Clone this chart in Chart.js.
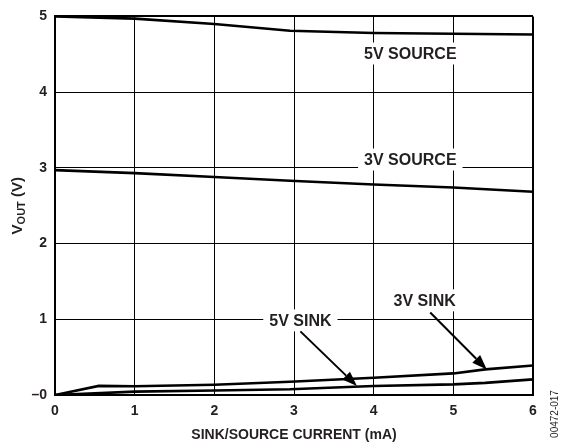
<!DOCTYPE html>
<html>
<head>
<meta charset="utf-8">
<script src="https://cdn.jsdelivr.net/npm/chart.js@4/dist/chart.umd.min.js"></script>
<style>
  html, body { margin: 0; padding: 0; background: #fff; }
  #wrap { width: 561px; height: 444px; position: relative; }
</style>
</head>
<body>
<div id="wrap"><canvas id="c" width="561" height="444"></canvas></div>
<script>
// ---- data ----
const src5X = [0, 1, 2, 2.95, 4, 5, 6];
const src5Y = [5.0, 4.97, 4.9, 4.81, 4.78, 4.77, 4.76];
const src3X = [0, 1, 2, 2.95, 4, 5, 6];
const src3Y = [2.97, 2.93, 2.88, 2.83, 2.78, 2.74, 2.685];
const sink3X = [0, 0.55, 1, 2, 2.95, 4, 5, 5.4, 6];
const sink3Y = [0.0, 0.12, 0.115, 0.135, 0.175, 0.227, 0.285, 0.338, 0.39];
const sink5X = [0, 1, 2, 2.95, 4, 5, 5.4, 6];
const sink5Y = [0.0, 0.045, 0.06, 0.075, 0.118, 0.14, 0.16, 0.206];
const xTicks = [0, 1, 2, 3, 4, 5, 6];
const yTicks = [0, 1, 2, 3, 4, 5];
const yTickLabels = ['\u20130', '1', '2', '3', '4', '5'];
const xTitle = 'SINK/SOURCE CURRENT (mA)';
const yTitleMain = 'V';
const yTitleSub = 'OUT';
const yTitleTail = ' (V)';
const sideNote = '00472-017';
// annotation labels (data coordinates)
const labelTexts = ['5V SOURCE', '3V SOURCE', '5V SINK', '3V SINK'];
const labelX = [4.46, 4.46, 3.08, 4.64];
const labelY = [4.51, 3.11, 0.985, 1.25];
// arrows (data coordinates): from -> to
const arrowFromX = [3.08, 4.71];
const arrowFromY = [0.84, 1.09];
const arrowToX = [3.79, 5.42];
const arrowToY = [0.118, 0.338];

const FONT = "'Liberation Sans', Arial, Helvetica, sans-serif";
const toPts = (xs, ys) => xs.map((x, i) => ({ x: x, y: ys[i] }));

const lineDs = (label, xs, ys) => ({
  label: label,
  data: toPts(xs, ys),
  borderColor: '#000',
  borderWidth: 2.6,
  pointRadius: 0,
  fill: false,
  tension: 0
});

const annotationPlugin = {
  id: 'annot',
  afterDatasetsDraw(chart) {
    const ctx = chart.ctx;
    const xs = chart.scales.x, ys = chart.scales.y;
    ctx.save();
    ctx.font = 'bold 16px ' + FONT;
    ctx.textAlign = 'center';
    ctx.textBaseline = 'middle';
    labelTexts.forEach((t, i) => {
      const px = xs.getPixelForValue(labelX[i]);
      const py = ys.getPixelForValue(labelY[i]);
      const w = ctx.measureText(t).width;
      ctx.fillStyle = '#fff';
      ctx.fillRect(px - w / 2 - 6, py - 11, w + 12, 22);
      ctx.fillStyle = '#231f20';
      ctx.fillText(t, px, py + 1);
    });
    // arrows
    ctx.strokeStyle = '#000';
    ctx.fillStyle = '#000';
    ctx.lineWidth = 2;
    arrowFromX.forEach((fx, i) => {
      const x1 = xs.getPixelForValue(fx), y1 = ys.getPixelForValue(arrowFromY[i]);
      const x2 = xs.getPixelForValue(arrowToX[i]), y2 = ys.getPixelForValue(arrowToY[i]);
      const ang = Math.atan2(y2 - y1, x2 - x1);
      const L = 15, H = 5.5;
      const bx = x2 - L * Math.cos(ang), by = y2 - L * Math.sin(ang);
      ctx.beginPath();
      ctx.moveTo(x1, y1);
      ctx.lineTo(bx, by);
      ctx.stroke();
      ctx.beginPath();
      ctx.moveTo(x2, y2);
      ctx.lineTo(bx + H * Math.sin(ang), by - H * Math.cos(ang));
      ctx.lineTo(bx - H * Math.sin(ang), by + H * Math.cos(ang));
      ctx.closePath();
      ctx.fill();
    });
    ctx.restore();
  },
  afterDraw(chart) {
    const ctx = chart.ctx;
    const a = chart.chartArea;
    ctx.save();
    // y title with subscript
    ctx.translate(17, (a.top + a.bottom) / 2);
    ctx.rotate(-Math.PI / 2);
    ctx.fillStyle = '#231f20';
    ctx.textBaseline = 'alphabetic';
    ctx.font = 'bold 15px ' + FONT;
    const wV = ctx.measureText(yTitleMain).width;
    ctx.font = 'bold 11px ' + FONT;
    const wS = ctx.measureText(yTitleSub).width;
    ctx.font = 'bold 15px ' + FONT;
    const wT = ctx.measureText(yTitleTail).width;
    let x0 = -(wV + wS + wT) / 2;
    ctx.textAlign = 'left';
    ctx.fillText(yTitleMain, x0, 5);
    ctx.font = 'bold 11px ' + FONT;
    ctx.fillText(yTitleSub, x0 + wV, 8);
    ctx.font = 'bold 15px ' + FONT;
    ctx.fillText(yTitleTail, x0 + wV + wS, 5);
    ctx.restore();
    // side note
    ctx.save();
    ctx.translate(555, 414);
    ctx.rotate(-Math.PI / 2);
    ctx.font = '10px ' + FONT;
    ctx.fillStyle = '#231f20';
    ctx.textAlign = 'center';
    ctx.textBaseline = 'middle';
    ctx.fillText(sideNote, 0, 0);
    ctx.restore();
  }
};

new Chart(document.getElementById('c'), {
  type: 'line',
  data: {
    datasets: [
      lineDs('5V SOURCE', src5X, src5Y),
      lineDs('3V SOURCE', src3X, src3Y),
      lineDs('3V SINK', sink3X, sink3Y),
      lineDs('5V SINK', sink5X, sink5Y)
    ]
  },
  options: {
    responsive: false,
    animation: false,
    devicePixelRatio: 1,
    layout: { padding: { left: 0, right: 28, top: 14, bottom: 0 } },
    plugins: { legend: { display: false }, tooltip: { enabled: false } },
    scales: {
      x: {
        type: 'linear',
        min: 0, max: 6,
        afterBuildTicks: (s) => { s.ticks = xTicks.map(v => ({ value: v })); },
        afterFit: (s) => { s.height = 49; },
        grid: {
          color: '#000',
          lineWidth: (c) => (c.tick && (c.tick.value === 6 || c.tick.value === 0)) ? 2 : 1,
          drawTicks: false
        },
        border: { display: true, color: '#000', width: 2 },
        ticks: {
          padding: 8,
          color: '#231f20',
          font: { family: FONT, size: 14, weight: 'bold' },
          maxRotation: 0
        },
        title: {
          display: true,
          text: xTitle,
          color: '#231f20',
          font: { family: FONT, size: 14, weight: 'bold' },
          padding: { top: 2, bottom: 0 }
        }
      },
      y: {
        type: 'linear',
        min: 0, max: 5,
        afterBuildTicks: (s) => { s.ticks = yTicks.map(v => ({ value: v })); },
        afterFit: (s) => { s.width = 55; },
        grid: {
          color: '#000',
          lineWidth: (c) => (c.tick && (c.tick.value === 5 || c.tick.value === 0)) ? 2 : 1,
          drawTicks: false
        },
        border: { display: true, color: '#000', width: 2 },
        ticks: {
          padding: 8,
          color: '#231f20',
          font: { family: FONT, size: 14, weight: 'bold' },
          callback: (v) => yTickLabels[yTicks.indexOf(v)]
        }
      }
    }
  },
  plugins: [annotationPlugin]
});
</script>
</body>
</html>
